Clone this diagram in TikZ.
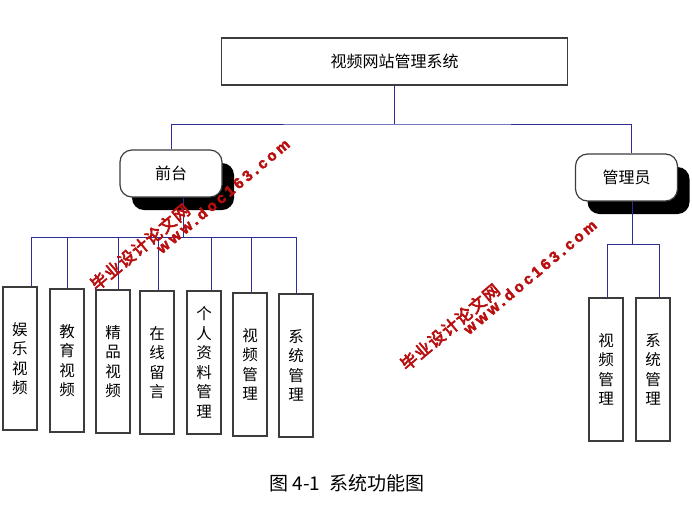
\documentclass[tikz,border=0pt]{standalone}
\usepackage{xcolor}
\usepackage{fontspec}
\setmainfont{Noto Sans CJK SC}
\newfontfamily\wmcjk{Noto Sans CJK SC}[FakeBold=4, LetterSpace=8]
\newfontfamily\wmlatin{Liberation Sans}[FakeBold=3, LetterSpace=22]
\usetikzlibrary {positioning, shadows}
\definecolor{linkblue}{RGB}{45,45,150}
\definecolor{boxgray}{RGB}{60,60,60}
\definecolor{wmred}{RGB}{185,15,15}

\begin{document}
\begin{tikzpicture}[x=1pt, y=-1pt,
    sysbox/.style={draw=boxgray, line width=1.2pt, minimum width=346pt, minimum height=47pt,
      font=\fontsize{16}{18}\selectfont},
    rolebox/.style={draw=boxgray, line width=1.2pt, fill=white, rounded corners=12pt,
      minimum width=102pt, minimum height=47pt, font=\fontsize{16}{18}\selectfont,
      drop shadow={opacity=1, fill=black, shadow xshift=12pt, shadow yshift=-13pt}},
    funcbox/.style={draw=boxgray, line width=1.2pt, minimum width=34pt, minimum height=143pt,
      inner sep=0pt, align=center, font=\fontsize{15.5}{19.5}\selectfont},
    link/.style={draw=linkblue, line width=1pt},
    wmcn/.style={text=wmred, rotate=40, inner sep=0pt, font=\wmcjk\fontsize{16.5}{18}\selectfont},
    wmurl/.style={text=wmred, rotate=40, inner sep=0pt, font=\wmlatin\bfseries\fontsize{15}{17}\selectfont}]
  \useasboundingbox (0,0) rectangle (692,512);

  \node[sysbox] (sys) at (394.5,61.5) {视频网站管理系统};
  \node[rolebox] (front) at (171,173.5) {前台};
  \node[rolebox] (admin) at (626.5,177.5) {管理员};

  \node[funcbox] (f1) at (20,358.5) {娱\\乐\\视\\频};
  \node[funcbox] (f2) at (67,360.5) {教\\育\\视\\频};
  \node[funcbox] (f3) at (113,361.5) {精\\品\\视\\频};
  \node[funcbox] (f4) at (157,362.5) {在\\线\\留\\言};
  \node[funcbox] (f5) at (204,362.5) {个\\人\\资\\料\\管\\理};
  \node[funcbox] (f6) at (250,364.5) {视\\频\\管\\理};
  \node[funcbox] (f7) at (296,365.5) {系\\统\\管\\理};

  \node[funcbox] (a1) at (606,369.5) {视\\频\\管\\理};
  \node[funcbox] (a2) at (653,369.5) {系\\统\\管\\理};

  \coordinate (tbus) at (393,124);
  \coordinate (fbus) at (183,237);
  \coordinate (abus) at (632,244);

  \draw[link] (sys.south) -- (sys.south |- tbus);
  \draw[link] (front.north) |- (tbus) -| ([xshift=4.5pt]admin.north);
  \draw[link] ([xshift=12pt]front.south) -- (fbus);
  \foreach \name/\dx in {f1/11, f2/0, f3/5, f4/1, f5/7, f6/1, f7/0}
    \draw[link] (fbus) -| ([xshift=\dx pt]\name.north);
  \draw[link] ([xshift=5.5pt]admin.south) -- (abus);
  \draw[link] (abus) -| ([xshift=1pt]a1.north);
  \draw[link] (abus) -| ([xshift=6pt]a2.north);

  \node[wmcn] (wm1cn) at (140,247) {毕业设计论文网};
  \node[wmurl] (wm1url) at (223,196) {www.doc163.com};
  \node[wmcn] (wm2cn) at (450,327) {毕业设计论文网};
  \node[wmurl] (wm2url) at (530,277) {www.doc163.com};

  \node[font=\fontsize{19}{21}\selectfont] (cap) at (347,483) {图 4-1\enspace 系统功能图};
\end{tikzpicture}
\end{document}
